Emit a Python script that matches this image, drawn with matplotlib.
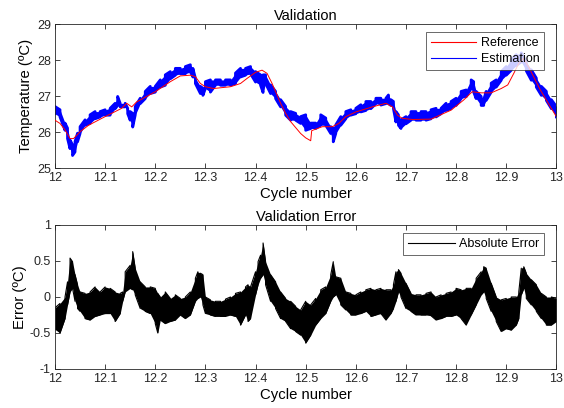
import numpy as np
import matplotlib
matplotlib.use("Agg")
import matplotlib.pyplot as plt

plt.rcParams["font.family"] = ["Liberation Sans", "DejaVu Sans"]

# reference temperature (red)
ref_cycle = [12.000, 12.010, 12.020, 12.030, 12.037, 12.050, 12.067, 12.100, 12.133, 12.143,
             12.153, 12.163, 12.200, 12.230, 12.250, 12.270, 12.280, 12.290, 12.300, 12.316,
             12.350, 12.370, 12.383, 12.400, 12.413, 12.423, 12.433, 12.450, 12.460, 12.470,
             12.490, 12.500, 12.510, 12.512, 12.533, 12.553, 12.566, 12.580, 12.600, 12.633,
             12.660, 12.673, 12.683, 12.693, 12.713, 12.750, 12.790, 12.815, 12.832, 12.850,
             12.870, 12.890, 12.903, 12.915, 12.925, 12.935, 12.948, 12.968, 12.988, 13.000]
ref_temp = [26.33, 26.24, 26.06, 25.82, 25.82, 26.01, 26.19, 26.43, 26.66, 26.80,
            26.70, 26.84, 27.12, 27.40, 27.56, 27.58, 27.54, 27.35, 27.26, 27.21,
            27.26, 27.35, 27.49, 27.66, 27.72, 27.63, 27.35, 26.80, 26.52, 26.29,
            25.96, 25.84, 25.76, 26.04, 26.15, 26.15, 26.24, 26.43, 26.56, 26.70,
            26.80, 26.70, 26.47, 26.38, 26.35, 26.36, 26.61, 26.89, 27.12, 27.09,
            27.09, 27.21, 27.31, 27.63, 27.91, 28.05, 27.72, 27.17, 26.70, 26.43]

# estimated temperature (blue), upper / lower value of the noisy band
est_cycle = [12.000, 12.010, 12.020, 12.025, 12.030, 12.035, 12.040, 12.045, 12.050, 12.060,
             12.070, 12.080, 12.090, 12.100, 12.110, 12.120, 12.125, 12.130, 12.140, 12.145,
             12.150, 12.155, 12.160, 12.170, 12.180, 12.190, 12.200, 12.210, 12.220, 12.230,
             12.240, 12.250, 12.260, 12.270, 12.275, 12.280, 12.290, 12.295, 12.300, 12.310,
             12.320, 12.330, 12.340, 12.350, 12.360, 12.370, 12.380, 12.390, 12.400, 12.410,
             12.415, 12.420, 12.430, 12.440, 12.450, 12.460, 12.470, 12.480, 12.490, 12.500,
             12.510, 12.520, 12.530, 12.540, 12.550, 12.555, 12.560, 12.570, 12.580, 12.590,
             12.600, 12.610, 12.620, 12.630, 12.640, 12.650, 12.660, 12.665, 12.670, 12.675,
             12.680, 12.685, 12.690, 12.700, 12.710, 12.720, 12.730, 12.740, 12.750, 12.760,
             12.770, 12.780, 12.790, 12.800, 12.810, 12.820, 12.830, 12.835, 12.840, 12.850,
             12.855, 12.860, 12.870, 12.880, 12.890, 12.900, 12.910, 12.920, 12.930, 12.940,
             12.950, 12.960, 12.970, 12.980, 12.990, 13.000]
est_hi = [26.71, 26.62, 26.25, 26.11, 25.78, 25.65, 25.74, 25.97, 26.15, 26.34,
          26.48, 26.57, 26.57, 26.62, 26.66, 26.80, 26.99, 26.80, 26.80, 26.66,
          26.57, 26.52, 26.71, 26.94, 27.13, 27.27, 27.27, 27.45, 27.59, 27.68,
          27.77, 27.77, 27.82, 27.87, 27.77, 27.50, 27.27, 27.22, 27.40, 27.45,
          27.45, 27.45, 27.45, 27.45, 27.64, 27.77, 27.77, 27.82, 27.68, 27.59,
          27.59, 27.59, 27.31, 27.13, 26.90, 26.71, 26.57, 26.52, 26.43, 26.48,
          26.25, 26.25, 26.48, 26.39, 26.15, 26.11, 26.20, 26.43, 26.57, 26.62,
          26.66, 26.76, 26.85, 26.85, 26.94, 26.94, 26.94, 27.03, 26.90, 26.85,
          26.57, 26.48, 26.34, 26.43, 26.57, 26.57, 26.57, 26.57, 26.62, 26.66,
          26.66, 26.80, 26.85, 26.94, 27.13, 27.17, 27.45, 27.40, 27.13, 26.99,
          26.90, 27.13, 27.36, 27.45, 27.68, 27.82, 28.01, 28.15, 28.20, 27.95,
          27.73, 27.50, 27.27, 27.13, 26.90, 26.71]
est_lo = [26.51, 26.42, 26.05, 25.82, 25.54, 25.35, 25.45, 25.73, 25.96, 26.19,
          26.24, 26.37, 26.42, 26.47, 26.47, 26.65, 26.74, 26.70, 26.70, 26.51,
          26.33, 26.14, 26.47, 26.79, 26.93, 27.07, 27.11, 27.25, 27.30, 27.48,
          27.58, 27.62, 27.62, 27.67, 27.53, 27.35, 27.07, 27.02, 27.21, 27.11,
          27.30, 27.30, 27.30, 27.30, 27.35, 27.53, 27.58, 27.62, 27.39, 27.30,
          27.10, 27.35, 27.07, 26.93, 26.70, 26.47, 26.33, 26.33, 26.24, 26.05,
          26.10, 26.10, 26.19, 26.19, 25.96, 25.73, 25.96, 26.19, 26.37, 26.47,
          26.51, 26.56, 26.60, 26.65, 26.79, 26.75, 26.79, 26.79, 26.74, 26.65,
          26.28, 26.19, 26.10, 26.23, 26.33, 26.33, 26.33, 26.33, 26.37, 26.42,
          26.51, 26.60, 26.65, 26.74, 26.93, 26.98, 27.21, 27.11, 26.93, 26.74,
          26.74, 26.88, 27.11, 27.25, 27.44, 27.58, 27.72, 27.85, 27.95, 27.70,
          27.44, 27.25, 27.02, 26.88, 26.65, 26.42]

# validation error, upper / lower value of the noisy band
err_cycle = [12.000, 12.010, 12.020, 12.025, 12.030, 12.035, 12.040, 12.045, 12.050, 12.060,
             12.070, 12.080, 12.090, 12.100, 12.110, 12.120, 12.130, 12.135, 12.140, 12.150,
             12.155, 12.160, 12.170, 12.180, 12.190, 12.200, 12.205, 12.210, 12.220, 12.230,
             12.240, 12.250, 12.260, 12.270, 12.280, 12.285, 12.290, 12.295, 12.300, 12.310,
             12.320, 12.330, 12.340, 12.350, 12.360, 12.370, 12.380, 12.385, 12.390, 12.400,
             12.405, 12.410, 12.415, 12.420, 12.430, 12.440, 12.450, 12.460, 12.470, 12.480,
             12.490, 12.500, 12.510, 12.520, 12.530, 12.540, 12.550, 12.555, 12.560, 12.570,
             12.580, 12.590, 12.600, 12.610, 12.620, 12.630, 12.640, 12.650, 12.660, 12.670,
             12.675, 12.680, 12.685, 12.690, 12.700, 12.710, 12.720, 12.730, 12.740, 12.750,
             12.760, 12.770, 12.780, 12.790, 12.800, 12.810, 12.820, 12.830, 12.840, 12.850,
             12.855, 12.860, 12.870, 12.880, 12.890, 12.900, 12.910, 12.920, 12.925, 12.930,
             12.935, 12.940, 12.950, 12.960, 12.970, 12.980, 12.990, 13.000]
err_hi = [-0.15, -0.09, 0.00, 0.21, 0.54, 0.49, 0.31, 0.17, 0.07, 0.05,
          0.07, 0.14, 0.07, 0.14, 0.12, 0.07, 0.05, 0.07, 0.35, 0.44,
          0.63, 0.40, 0.21, 0.14, 0.14, 0.12, 0.05, 0.00, 0.07, -0.02,
          0.03, -0.02, 0.00, 0.07, 0.26, 0.35, 0.33, 0.31, 0.00, -0.04,
          -0.06, -0.06, -0.03, 0.00, 0.05, 0.07, 0.14, 0.17, 0.14, 0.35,
          0.49, 0.58, 0.75, 0.49, 0.31, 0.21, 0.07, -0.02, -0.06, -0.13,
          -0.18, -0.06, -0.11, -0.02, 0.10, 0.14, 0.31, 0.49, 0.28, 0.26,
          0.07, 0.05, 0.03, 0.07, 0.10, 0.12, 0.10, 0.12, 0.10, 0.10,
          0.17, 0.35, 0.38, 0.33, 0.19, 0.05, 0.03, 0.03, 0.05, 0.07,
          0.00, 0.03, 0.05, 0.07, 0.12, 0.10, 0.12, 0.12, 0.26, 0.35,
          0.42, 0.40, 0.19, 0.00, -0.04, -0.02, 0.00, 0.00, 0.07, 0.40,
          0.42, 0.33, 0.24, 0.17, 0.05, 0.00, 0.00, -0.02]
err_lo = [-0.45, -0.50, -0.30, -0.11, 0.07, 0.12, -0.06, -0.16, -0.20, -0.30,
          -0.32, -0.27, -0.25, -0.23, -0.23, -0.34, -0.23, -0.06, 0.07, 0.12,
          0.10, 0.03, -0.16, -0.20, -0.23, -0.37, -0.50, -0.32, -0.37, -0.34,
          -0.32, -0.25, -0.30, -0.25, -0.06, -0.02, 0.00, -0.11, -0.23, -0.25,
          -0.27, -0.27, -0.27, -0.25, -0.27, -0.39, -0.25, -0.34, -0.30, 0.03,
          0.17, 0.26, 0.31, 0.17, -0.06, -0.16, -0.30, -0.34, -0.44, -0.48,
          -0.53, -0.64, -0.53, -0.39, -0.30, -0.23, -0.06, 0.00, 0.03, -0.11,
          -0.18, -0.25, -0.25, -0.23, -0.20, -0.27, -0.25, -0.23, -0.32, -0.23,
          -0.16, -0.06, 0.07, 0.00, -0.16, -0.20, -0.25, -0.25, -0.25, -0.26,
          -0.32, -0.30, -0.27, -0.27, -0.25, -0.30, -0.39, -0.25, -0.11, 0.03,
          0.07, -0.02, -0.20, -0.34, -0.48, -0.44, -0.46, -0.39, -0.30, 0.03,
          0.12, -0.02, -0.11, -0.20, -0.30, -0.39, -0.39, -0.34]

x_ticks = [12, 12.1, 12.2, 12.3, 12.4, 12.5, 12.6, 12.7, 12.8, 12.9, 13]
x_labels = ["12", "12.1", "12.2", "12.3", "12.4", "12.5", "12.6", "12.7", "12.8", "12.9", "13"]


def zigzag(x, hi, lo):
    # vertical stroke at each sample: lo->hi, then hi->lo on the next one
    xs = np.repeat(np.asarray(x), 2)
    pairs = np.column_stack([lo, hi])
    pairs[1::2] = pairs[1::2, ::-1]
    return xs, pairs.ravel()


def matlab_axes(ax):
    ax.tick_params(direction="in", top=True, right=True, length=3.5, width=0.6,
                   labelsize=9, colors="#262626", pad=3)
    for s in ax.spines.values():
        s.set_linewidth(0.6)
        s.set_color("#262626")
    ax.set_xlim(12, 13)
    ax.set_xticks(x_ticks)
    ax.set_xticklabels(x_labels)


def matlab_legend(ax, hlen):
    leg = ax.legend(loc="upper right", bbox_to_anchor=(0.976, 0.944), fontsize=9,
                    frameon=True, fancybox=False, edgecolor="#262626", borderpad=0.4,
                    handlelength=hlen, labelspacing=0.3, borderaxespad=0,
                    handletextpad=0.35)
    leg.get_frame().set_linewidth(0.6)
    leg.set_zorder(5)
    for h in leg.get_lines():
        h.set_linewidth(0.8)
    return leg


fig = plt.figure(figsize=(5.64, 4.08), dpi=100)
ax1 = fig.add_axes([0.0975, 0.588, 0.889, 0.353])
ax2 = fig.add_axes([0.0975, 0.0956, 0.889, 0.353])

# top: validation
ax1.plot(ref_cycle, ref_temp, color="red", lw=0.7, zorder=3, label="Reference")
ax1.fill_between(est_cycle, est_lo, est_hi, color="blue", lw=0, zorder=2)
zx, zy = zigzag(est_cycle, est_hi, est_lo)
ax1.plot(zx, zy, color="blue", lw=2.0, zorder=2, label="Estimation")
matlab_axes(ax1)
ax1.set_ylim(25, 29)
ax1.set_yticks([25, 26, 27, 28, 29])
ax1.set_title("Validation", fontsize=10.5, pad=3)
ax1.set_xlabel("Cycle number", fontsize=10.75, labelpad=2)
ax1.set_ylabel("Temperature (ºC)", fontsize=10.75, labelpad=3)
matlab_legend(ax1, 3.6)

# bottom: validation error
ax2.fill_between(err_cycle, err_lo, err_hi, color="black", lw=0, zorder=2)
zx, zy = zigzag(err_cycle, err_hi, err_lo)
ax2.plot(zx, zy, color="black", lw=0.8, zorder=2, label="Absolute Error")
matlab_axes(ax2)
ax2.set_ylim(-1, 1)
ax2.set_yticks([-1, -0.5, 0, 0.5, 1])
ax2.set_yticklabels(["-1", "-0.5", "0", "0.5", "1"])
ax2.set_title("Validation Error", fontsize=10.5, pad=3)
ax2.set_xlabel("Cycle number", fontsize=10.75, labelpad=2)
ax2.set_ylabel("Error (ºC)", fontsize=10.75, labelpad=2)
matlab_legend(ax2, 3.75)

fig.savefig("out.png", dpi=100)
